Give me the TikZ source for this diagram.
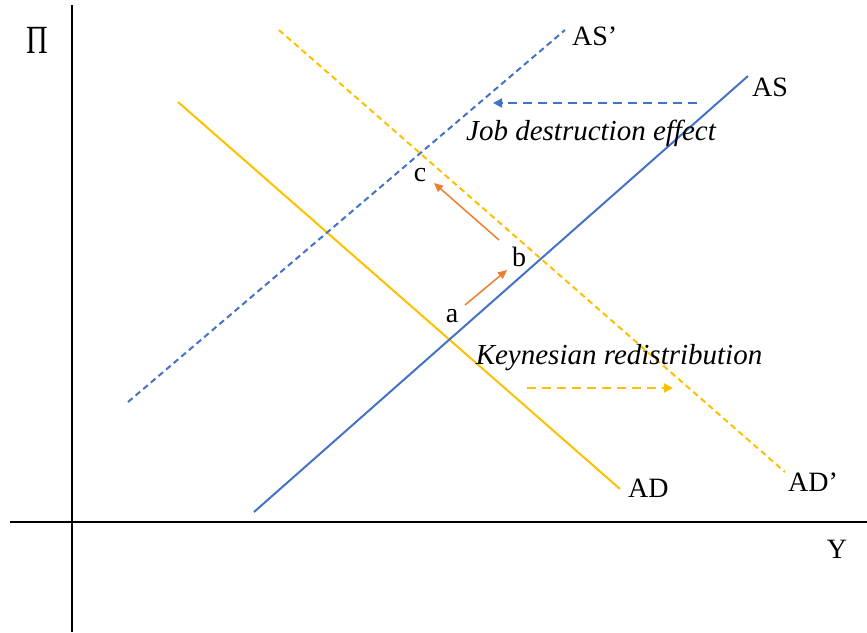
\documentclass[tikz,border=0pt]{standalone}
\usepackage{fontspec}
\setmainfont{Liberation Serif}
\usetikzlibrary{arrows.meta}
\definecolor{adyel}{HTML}{FFC000}
\definecolor{asblue}{HTML}{4472C4}
\definecolor{arrorange}{HTML}{ED7D31}
\tikzset{
  axis/.style={line width=2pt, black},
  adline/.style={line width=2pt, adyel},
  asline/.style={line width=2pt, asblue},
  dsh/.style={dash pattern=on 6pt off 4pt},
  shiftarrow/.style={line width=2pt, dash pattern=on 9pt off 6pt, -{Triangle[length=9pt,width=9pt]}},
  movearrow/.style={line width=1.5pt, arrorange, -{Triangle[length=9pt,width=8pt]}},
  lbl/.style={font=\fontsize{28}{32}\selectfont, inner sep=0pt},
  note/.style={font=\fontsize{29}{33}\selectfont\itshape, inner sep=0pt}
}
\begin{document}
\begin{tikzpicture}[x=1pt,y=-1pt]
\useasboundingbox (0,0) rectangle (867,632);
% axes
\coordinate (yt) at (72,5);
\coordinate (yb) at (72,632);
\coordinate (xl) at (10,522);
\coordinate (xr) at (867,522);
\draw[axis] (yt) -- (yb);
\draw[axis] (xl) -- (xr);
\node[font=\fontsize{40}{44}\selectfont, inner sep=0pt, xscale=0.75] (pi) at (37,40) {Π};
\node[lbl] (ylab) at (837,549) {Y};
% curves
\coordinate (ad1) at (178,102);
\coordinate (ad2) at (620,489);
\coordinate (adp1) at (279,30);
\coordinate (adp2) at (785,472);
\coordinate (as1) at (254,512);
\coordinate (as2) at (748,76);
\coordinate (asp1) at (128,402);
\coordinate (asp2) at (565,30);
\draw[adline] (ad1) -- (ad2);
\draw[adline, dsh] (adp1) -- (adp2);
\draw[asline] (as1) -- (as2);
\draw[asline, dsh] (asp1) -- (asp2);
\node[lbl, anchor=west] (adl) at (628,488) {AD};
\node[lbl, anchor=west] (adpl) at (788,482) {AD’};
\node[lbl, anchor=west] (asl) at (752,87) {AS};
\node[lbl, anchor=west] (aspl) at (572,36) {AS’};
% shift arrows
\coordinate (jd1) at (697,103);
\coordinate (jd2) at (493,103);
\draw[shiftarrow, asblue] (jd1) -- (jd2);
\node[note] (jde) at (591,133) {Job destruction effect};
\node[note] (kr) at (619,358) {Keynesian redistribution};
\coordinate (kr1) at (527,388);
\coordinate (kr2) at (673,388);
\draw[shiftarrow, adyel] (kr1) -- (kr2);
% points
\node[lbl] (a) at (452,316) {a};
\node[lbl] (b) at (519,257) {b};
\node[lbl] (c) at (420,175) {c};
\coordinate (ab1) at (465,305);
\coordinate (ab2) at (507,270);
\coordinate (bc1) at (499,240);
\coordinate (bc2) at (434,183);
\draw[movearrow] (ab1) -- (ab2);
\draw[movearrow] (bc1) -- (bc2);
\end{tikzpicture}
\end{document}
